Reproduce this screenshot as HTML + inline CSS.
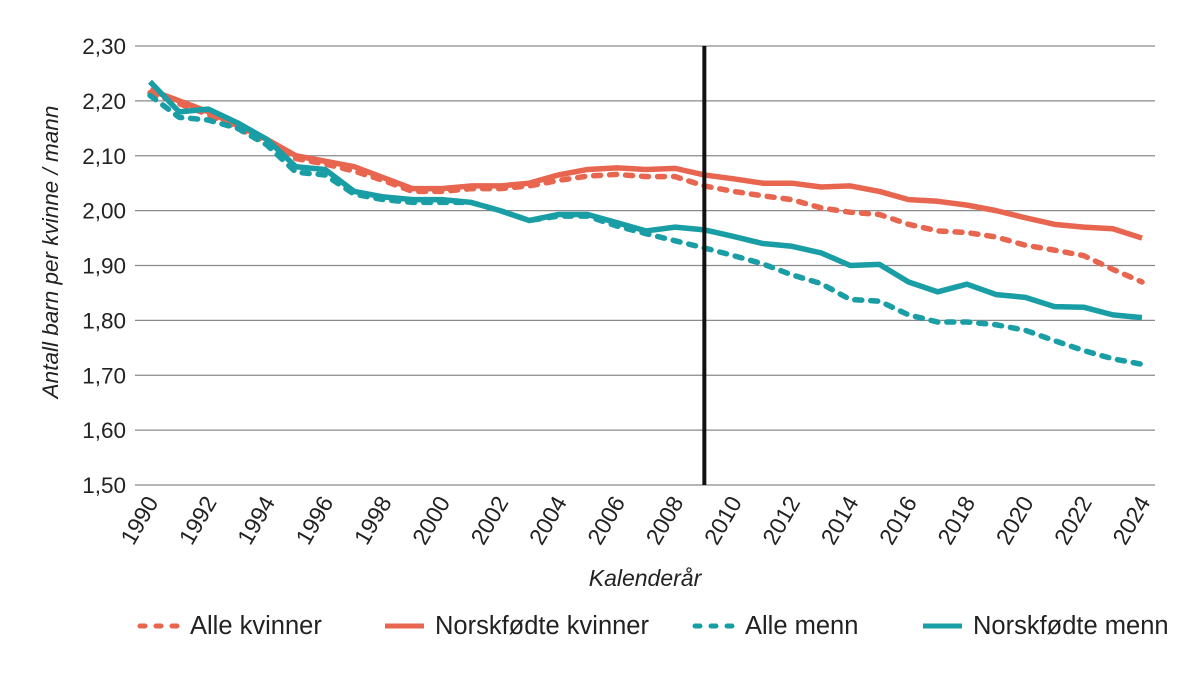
<!DOCTYPE html>
<html><head><meta charset="utf-8"><style>
body{margin:0;background:#fff;font-family:"Liberation Sans",sans-serif;}
svg text{font-family:"Liberation Sans",sans-serif;fill:#222;}
</style></head><body>
<svg id="chart" width="1200" height="678"></svg>
<script>
const years=[];for(let y=1990;y<=2024;y++)years.push(y);
const norskKvinner=[2.22,2.20,2.18,2.155,2.13,2.10,2.09,2.08,2.06,2.04,2.04,2.045,2.045,2.05,2.065,2.075,2.078,2.075,2.077,2.065,2.058,2.05,2.05,2.043,2.045,2.035,2.02,2.017,2.01,2.0,1.987,1.975,1.97,1.967,1.95];
const alleKvinner=[2.215,2.195,2.175,2.15,2.125,2.095,2.085,2.072,2.055,2.035,2.035,2.04,2.04,2.045,2.055,2.063,2.066,2.062,2.062,2.045,2.035,2.027,2.02,2.005,1.997,1.993,1.975,1.963,1.96,1.952,1.937,1.928,1.918,1.893,1.87];
const norskMenn=[2.235,2.18,2.185,2.16,2.13,2.08,2.075,2.035,2.025,2.02,2.02,2.015,2.0,1.982,1.993,1.993,1.978,1.963,1.97,1.965,1.953,1.94,1.935,1.923,1.9,1.902,1.87,1.852,1.866,1.847,1.842,1.825,1.824,1.81,1.805];
const alleMenn=[2.21,2.17,2.165,2.15,2.12,2.07,2.065,2.03,2.02,2.015,2.015,2.015,2.0,1.982,1.99,1.99,1.972,1.958,1.945,1.932,1.918,1.903,1.883,1.867,1.838,1.835,1.81,1.797,1.797,1.792,1.782,1.763,1.745,1.73,1.72];
const yTicks=[1.5,1.6,1.7,1.8,1.9,2.0,2.1,2.2,2.3];
const xTickYears=[1990,1992,1994,1996,1998,2000,2002,2004,2006,2008,2010,2012,2014,2016,2018,2020,2022,2024];
const markerYear=2009;

const NS="http://www.w3.org/2000/svg",svg=document.getElementById('chart');
const X=y=>150+(y-1990)*(1142-150)/34;
const Y=v=>485-(v-1.5)*(485-46)/0.8;
function el(t,a){const e=document.createElementNS(NS,t);for(const k in a)e.setAttribute(k,a[k]);svg.appendChild(e);return e;}
yTicks.forEach(v=>{
 const l=el('line',{x1:135,x2:1155,y1:Y(v),y2:Y(v),stroke:'#8a8a8a','stroke-width':1.3});
 
 
 const t=el('text',{x:126,y:Y(v)+8,'text-anchor':'end','font-size':22.5});
 t.textContent=v.toFixed(2).replace('.',',');
 
 
});
xTickYears.forEach(yr=>{
 const t=el('text',{x:0,y:0,'text-anchor':'end','font-size':23,transform:`translate(${X(yr)+9},${502}) rotate(-60)`});
 t.textContent=yr;
 
 
});
const series=[
 [alleKvinner,'#e8654f','7 9','alle-kvinner-line'],
 [norskKvinner,'#e8654f',null,'norskfodte-kvinner-line'],
 [alleMenn,'#1a9ea6','7 9','alle-menn-line'],
 [norskMenn,'#1a9ea6',null,'norskfodte-menn-line']];
series.forEach(([d,c,dash,n])=>{
 const p=el('polyline',{points:d.map((v,i)=>X(years[i])+','+Y(v)).join(' '),fill:'none',stroke:c,'stroke-width':5.5,'stroke-linejoin':'round','stroke-linecap':dash?'round':'butt'});
 if(dash)p.setAttribute('stroke-dasharray',dash);
 
 
});
const vl=el('line',{x1:X(markerYear),x2:X(markerYear),y1:46,y2:485,stroke:'#111','stroke-width':4});


const yt=el('text',{x:0,y:0,'text-anchor':'middle','font-size':22.5,'font-style':'italic',transform:'translate(58,252) rotate(-90)'});
yt.textContent='Antall barn per kvinne / mann';


const xt=el('text',{x:645,y:586,'text-anchor':'middle','font-size':23,'font-style':'italic'});
xt.textContent='Kalenderår';


const legend=[[137,'Alle kvinner','#e8654f',true],[382,'Norskfødte kvinner','#e8654f',false],[692,'Alle menn','#1a9ea6',true],[920,'Norskfødte menn','#1a9ea6',false]];
legend.forEach(([x,lab,c,d])=>{
 const l=el('line',{x1:x+3,x2:x+42,y1:626,y2:626,stroke:c,'stroke-width':5,'stroke-linecap':d?'round':'butt'});
 if(d)l.setAttribute('stroke-dasharray','5 11');
 
 
 const t=el('text',{x:x+53,y:634,'font-size':25.5});
 t.textContent=lab;
 
 
});
</script>
</body></html>
